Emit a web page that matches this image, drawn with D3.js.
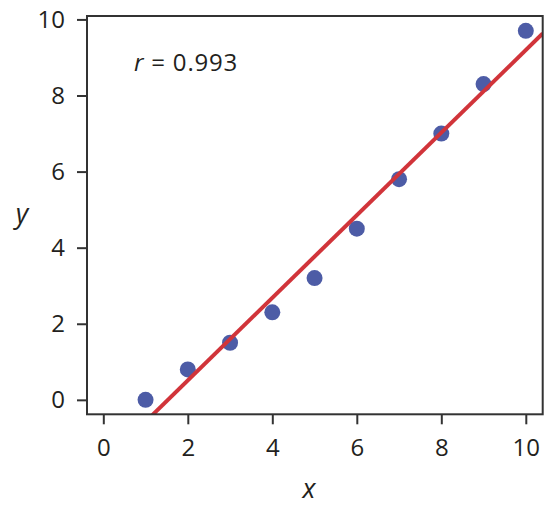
<!DOCTYPE html>
<html><head><meta charset="utf-8">
<script src="https://cdn.jsdelivr.net/npm/d3@7"></script>
<style>body{margin:0;background:#fff}svg{display:block}text{font-family:"Open Sans","Noto Sans",sans-serif;fill:#231f20}</style>
</head><body><svg id="c" width="558" height="507"></svg>
<script>
const xValues = [1,2,3,4,5,6,7,8,9,10];
const yValues = [0,0.8,1.5,2.3,3.2,4.5,5.8,7.0,8.3,9.7];
const xTicks = [0,2,4,6,8,10];
const yTicks = [0,2,4,6,8,10];
const rLabel = "0.993";

const svg = d3.select("#c");
const L=87, R=542.7, T=16, B=414.3;
const x = d3.scaleLinear().domain([-0.386,10.40]).range([L,R]);
const y = d3.scaleLinear().domain([-0.38,10.09]).range([B,T]);

// least-squares fit from the data
const mx=d3.mean(xValues), my=d3.mean(yValues);
let sxy=0,sxx=0; xValues.forEach((v,i)=>{sxy+=(v-mx)*(yValues[i]-my);sxx+=(v-mx)*(v-mx);});
const slope=sxy/sxx, icpt=my-slope*mx;

svg.append("clipPath").attr("id","clip").append("rect").attr("x",L).attr("y",T).attr("width",R-L).attr("height",B-T);

const pts=xValues.map((v,i)=>({x:v,y:yValues[i]}));
svg.append("g").selectAll("circle").data(pts).join("circle")
 .attr("cx",d=>x(d.x)).attr("cy",d=>y(d.y)).attr("r",8).attr("fill","#4d5ca6");

const xd=x.domain();
svg.append("line").attr("clip-path","url(#clip)")
 .attr("x1",x(xd[0])).attr("y1",y(icpt+slope*xd[0]))
 .attr("x2",x(xd[1])).attr("y2",y(icpt+slope*xd[1]))
 .attr("stroke","#d1343a").attr("stroke-width",4);

svg.append("rect").attr("x",L).attr("y",T).attr("width",R-L).attr("height",B-T)
 .attr("fill","none").attr("stroke","#333").attr("stroke-width",2);

const xa=svg.append("g").attr("transform",`translate(0,${B})`)
 .call(d3.axisBottom(x).tickValues(xTicks).tickSize(10).tickSizeOuter(0).tickPadding(15));
const ya=svg.append("g").attr("transform",`translate(${L},0)`)
 .call(d3.axisLeft(y).tickValues(yTicks).tickSize(10).tickSizeOuter(0).tickPadding(12));
[xa,ya].forEach(a=>{a.select(".domain").remove();a.selectAll("line").attr("stroke","#333").attr("stroke-width",2);
 a.selectAll("text").attr("font-size",24).attr("fill","#231f20").style("font-family",'"Open Sans","Noto Sans",sans-serif');});

svg.append("text").attr("x",309).attr("y",498).attr("text-anchor","middle").attr("font-size",27).attr("font-style","italic").text("x");
svg.append("text").attr("x",22).attr("y",223).attr("text-anchor","middle").attr("font-size",27).attr("font-style","italic").text("y");

const t=svg.append("text").attr("x",134).attr("y",71).attr("font-size",24).attr("letter-spacing",0.8);
t.append("tspan").attr("font-style","italic").text("r");
t.append("tspan").text(" = "+rLabel);
</script></body></html>
